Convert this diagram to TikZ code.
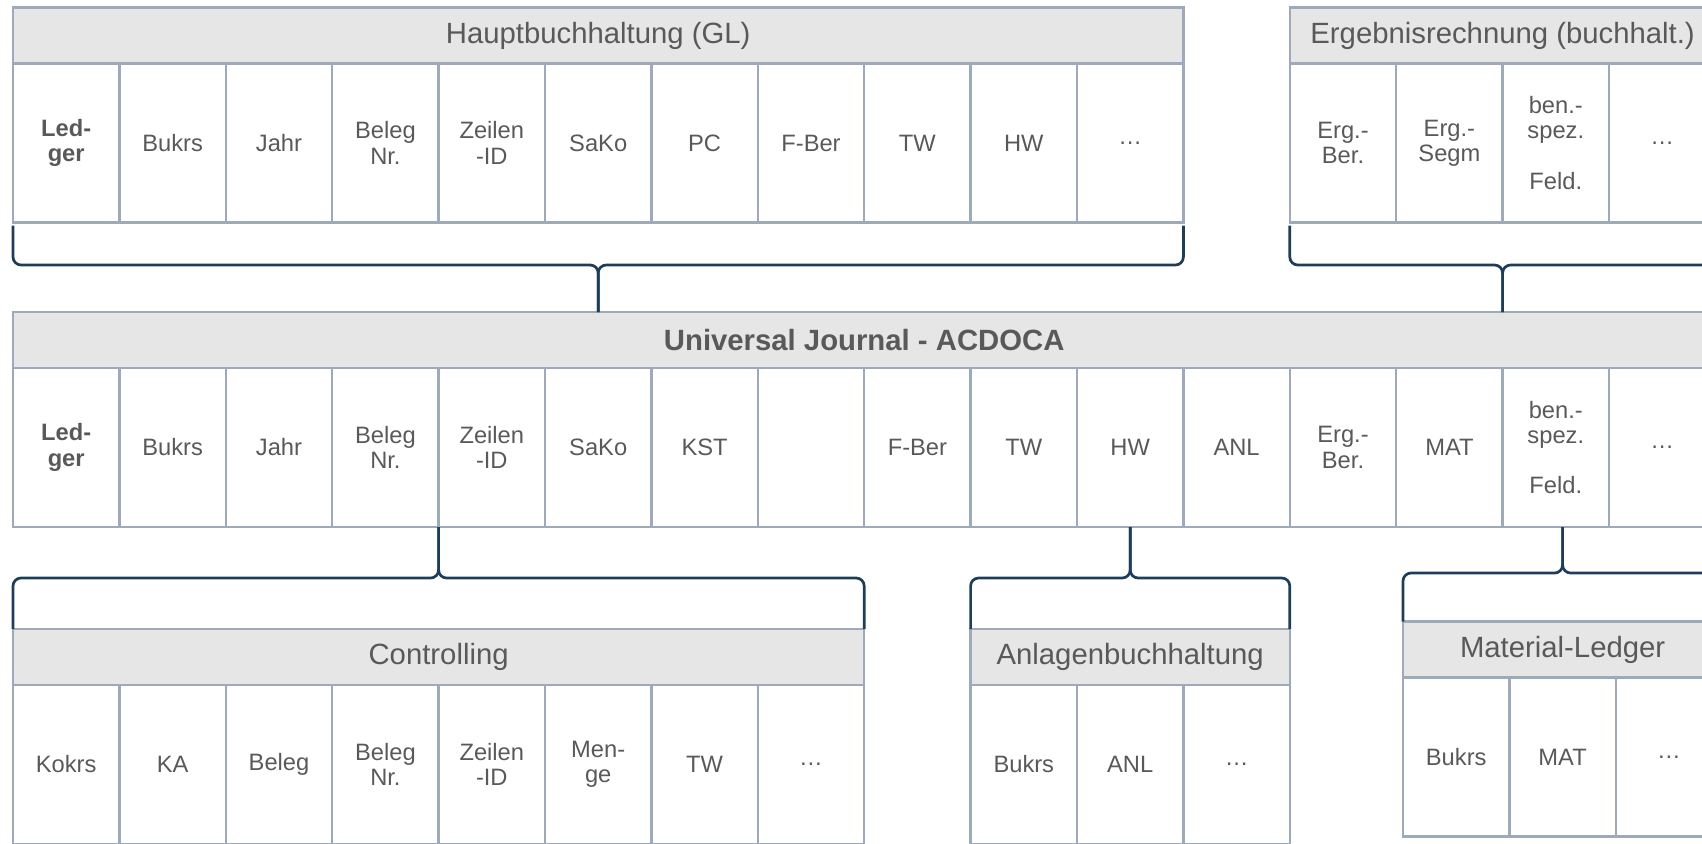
\documentclass[tikz,border=0pt]{standalone}
\usepackage{fontspec}
\setmainfont{Liberation Sans}
\usetikzlibrary{positioning,calc}
\definecolor{gridgray}{HTML}{9EAABA}
\definecolor{headfill}{HTML}{E6E6E6}
\definecolor{textgray}{HTML}{595959}
\definecolor{bracenavy}{HTML}{1E3D59}
\tikzset{
  cell/.style={
    draw=gridgray,
    line width=1.15pt,
    text=textgray,
    align=center,
    minimum width=53.2pt,
    minimum height=79.5pt,
    inner sep=0pt,
    outer sep=0pt,
    font=\fontsize{11.85}{12.6}\selectfont
  },
  keycell/.style={
    cell,
    font=\fontsize{11.85}{12.6}\selectfont\bfseries
  },
  head/.style={
    draw=gridgray,
    line width=1.15pt,
    fill=headfill,
    text=textgray,
    minimum height=28pt,
    inner sep=0pt,
    outer sep=0pt,
    anchor=north west,
    font=\fontsize{14.65}{17}\selectfont
  },
  brace/.style={draw=bracenavy, line width=1.35pt, rounded corners=4pt}
}

\begin{document}
\begin{tikzpicture}
\useasboundingbox (0,0) rectangle (851pt,-421.5pt);
\clip (0,0) rectangle (851pt,-421.5pt);

% --- Hauptbuchhaltung ---
\node[head, minimum width=585.2pt] (hGL) at (6.5pt,-3.75pt) {Hauptbuchhaltung (GL)};
\node[keycell, anchor=north west] (gl1) at (hGL.south west) {Led-\\ger};
\node[cell, right=0pt of gl1] (gl2) {Bukrs};
\node[cell, right=0pt of gl2] (gl3) {Jahr};
\node[cell, right=0pt of gl3] (gl4) {Beleg\\Nr.};
\node[cell, right=0pt of gl4] (gl5) {Zeilen\\-ID};
\node[cell, right=0pt of gl5] (gl6) {SaKo};
\node[cell, right=0pt of gl6] (gl7) {PC};
\node[cell, right=0pt of gl7] (gl8) {F-Ber};
\node[cell, right=0pt of gl8] (gl9) {TW};
\node[cell, right=0pt of gl9] (gl10) {HW};
\node[cell, right=0pt of gl10] (gl11) {…};

% --- Ergebnisrechnung ---
\node[head, minimum width=212.8pt, right=53.2pt of hGL] (hER) {Ergebnisrechnung (buchhalt.)};
\node[cell, anchor=north west] (er1) at (hER.south west) {Erg.-\\Ber.};
\node[cell, right=0pt of er1] (er2) {Erg.-\\Segm};
\node[cell, right=0pt of er2] (er3) {ben.-\\spez.\\[12.6pt]Feld.};
\node[cell, right=0pt of er3] (er4) {…};

% --- Universal Journal ---
\node[head, minimum width=851.2pt, below right=44.75pt and 0pt of gl1.south west,
      font=\fontsize{14.65}{17}\selectfont\bfseries] (hAC) {Universal Journal - ACDOCA};
\node[keycell, anchor=north west] (ac1) at (hAC.south west) {Led-\\ger};
\node[cell, right=0pt of ac1] (ac2) {Bukrs};
\node[cell, right=0pt of ac2] (ac3) {Jahr};
\node[cell, right=0pt of ac3] (ac4) {Beleg\\Nr.};
\node[cell, right=0pt of ac4] (ac5) {Zeilen\\-ID};
\node[cell, right=0pt of ac5] (ac6) {SaKo};
\node[cell, right=0pt of ac6] (ac7) {KST};
\node[cell, right=0pt of ac7] (ac8) {};
\node[cell, right=0pt of ac8] (ac9) {F-Ber};
\node[cell, right=0pt of ac9] (ac10) {TW};
\node[cell, right=0pt of ac10] (ac11) {HW};
\node[cell, right=0pt of ac11] (ac12) {ANL};
\node[cell, right=0pt of ac12] (ac13) {Erg.-\\Ber.};
\node[cell, right=0pt of ac13] (ac14) {MAT};
\node[cell, right=0pt of ac14] (ac15) {ben.-\\spez.\\[12.6pt]Feld.};
\node[cell, right=0pt of ac15] (ac16) {…};

% --- Controlling ---
\node[head, minimum width=425.6pt, below right=51pt and 0pt of ac1.south west] (hCO) {Controlling};
\node[cell, anchor=north west] (co1) at (hCO.south west) {Kokrs};
\node[cell, right=0pt of co1] (co2) {KA};
\node[cell, right=0pt of co2] (co3) {Beleg};
\node[cell, right=0pt of co3] (co4) {Beleg\\Nr.};
\node[cell, right=0pt of co4] (co5) {Zeilen\\-ID};
\node[cell, right=0pt of co5] (co6) {Men-\\ge};
\node[cell, right=0pt of co6] (co7) {TW};
\node[cell, right=0pt of co7] (co8) {…};

% --- Anlagenbuchhaltung ---
\node[head, minimum width=159.6pt, right=53.2pt of hCO] (hAN) {Anlagenbuchhaltung};
\node[cell, anchor=north west] (an1) at (hAN.south west) {Bukrs};
\node[cell, right=0pt of an1] (an2) {ANL};
\node[cell, right=0pt of an2] (an3) {…};

% --- Material-Ledger ---
\node[head, minimum width=159.6pt, right=56.6pt of hAN, yshift=3.75pt] (hML) {Material-Ledger};
\node[cell, anchor=north west] (ml1) at (hML.south west) {Bukrs};
\node[cell, right=0pt of ml1] (ml2) {MAT};
\node[cell, right=0pt of ml2] (ml3) {…};

% --- braces ---
\coordinate (glbr) at ($(hGL.south |- gl1.south)+(0,-21.25pt)$);
\coordinate (erbr) at ($(hER.south |- er1.south)+(0,-21.25pt)$);
\coordinate (cobr) at ($(ac4.south east)+(0,-25.5pt)$);
\coordinate (anbr) at ($(ac11.south)+(0,-25.5pt)$);
\coordinate (mlbr) at ($(hML.north |- ac15.south)+(0,-23pt)$);

\draw[brace] ([yshift=-1.5pt]gl1.south west) |- (glbr) -- (glbr |- hAC.north);
\draw[brace] ([yshift=-1.5pt]gl11.south east) |- (glbr) -- (glbr |- hAC.north);
\draw[brace] ([yshift=-1.5pt]er1.south west) |- (erbr) -- (erbr |- hAC.north);
\draw[brace] ([yshift=-1.5pt]er4.south east) |- (erbr) -- (erbr |- hAC.north);

\draw[brace] (hCO.north west) |- (cobr) -- (ac4.south east);
\draw[brace] (hCO.north east) |- (cobr) -- (ac4.south east);
\draw[brace] (hAN.north west) |- (anbr) -- (ac11.south);
\draw[brace] (hAN.north east) |- (anbr) -- (ac11.south);
\draw[brace] (hML.north west) |- (mlbr) -- (mlbr |- ac15.south);
\draw[brace] (hML.north east) |- (mlbr) -- (mlbr |- ac15.south);
\end{tikzpicture}
\end{document}
